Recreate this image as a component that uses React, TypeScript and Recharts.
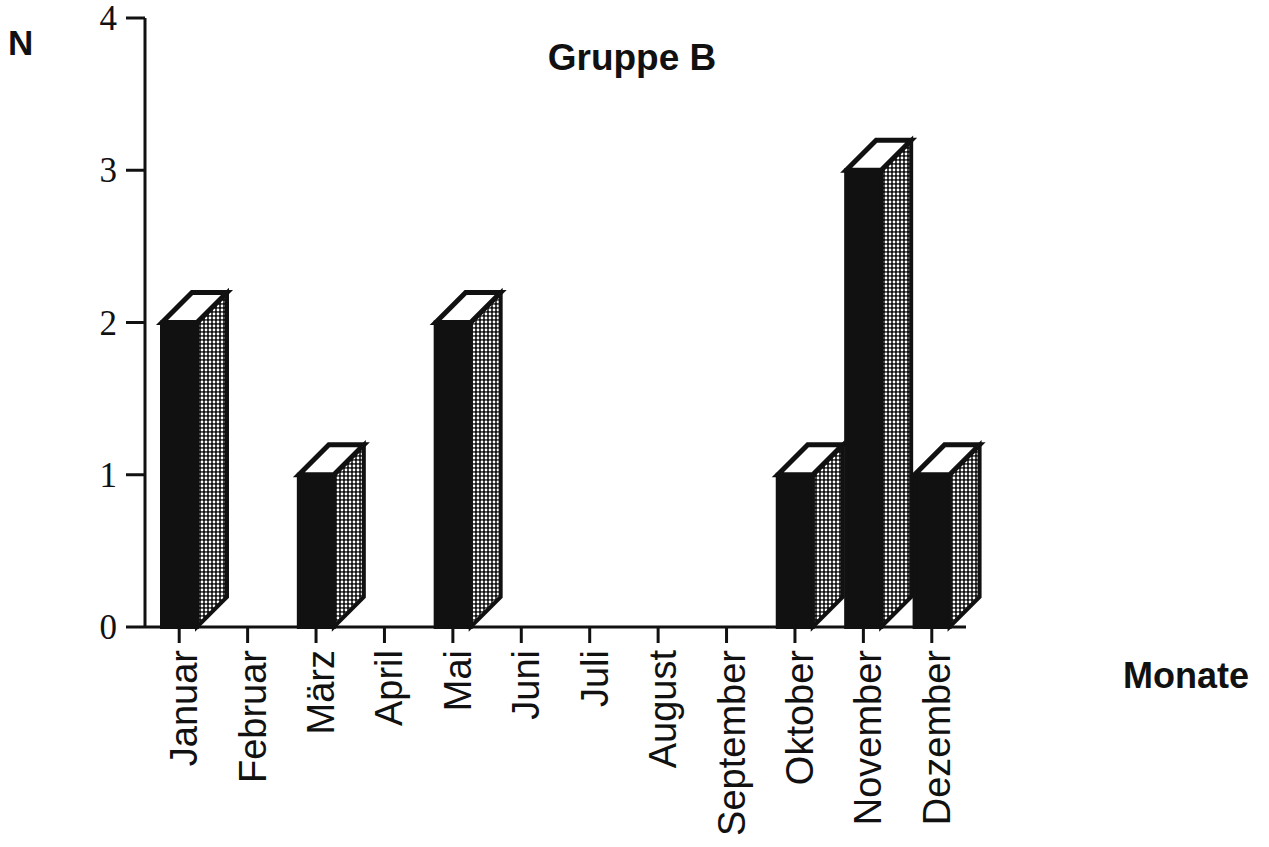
import React from "react";
import { BarChart, Bar, XAxis, YAxis } from "recharts";

const months = [
  "Januar", "Februar", "März", "April", "Mai", "Juni",
  "Juli", "August", "September", "Oktober", "November", "Dezember",
];
const counts = [2, 0, 1, 0, 2, 0, 0, 0, 0, 1, 3, 1];
const yTicks = [0, 1, 2, 3, 4];

const data = months.map((m, i) => ({ month: m, n: counts[i] }));

const DEPTH = 30;
const INK = "#111";
const SANS = "'Liberation Sans', Arial, Helvetica, sans-serif";
const SERIF = "'Liberation Serif', 'Times New Roman', serif";

// front face black, side dotted, top white - old-school 3D column
const Block3D = (props: any) => {
  const { x, y, width, height } = props;
  if (!height || height <= 0) return null;
  const d = DEPTH;
  const r = x + width;
  const b = y + height;
  return (
    <g stroke={INK} strokeWidth={4} strokeLinejoin="miter">
      <polygon points={`${r},${y} ${r + d},${y - d} ${r + d},${b - d} ${r},${b}`} fill="url(#dots)" />
      <rect x={x} y={y} width={width} height={height} fill={INK} />
      <polygon points={`${x},${y} ${x + d},${y - d} ${r + d},${y - d} ${r},${y}`} fill="#fff" strokeWidth={5} />
    </g>
  );
};

const MonthTick = (props: any) => {
  const { x, y, payload } = props;
  return (
    <text
      transform={`translate(${x + 18}, ${y}) rotate(-90)`}
      textAnchor="end"
      fontFamily={SANS}
      fontSize={38}
      fill={INK}
    >
      {payload.value}
    </text>
  );
};

const CountTick = (props: any) => {
  const { x, y, payload } = props;
  return (
    <text x={x} y={y + 12} textAnchor="end" fontFamily={SERIF} fontSize={35} fill={INK}>
      {payload.value}
    </text>
  );
};

export default function App() {
  return (
    <div style={{ position: "absolute", left: 0, top: 0, width: 1269, height: 847, background: "#fff" }}>
      <BarChart
        width={1269}
        height={847}
        data={data}
        margin={{ top: 18, right: 303, bottom: 20, left: 0 }}
      >
        <XAxis
          dataKey="month"
          interval={0}
          height={200}
          tickSize={16}
          tickMargin={7}
          axisLine={{ stroke: INK, strokeWidth: 3 }}
          tickLine={{ stroke: INK, strokeWidth: 3 }}
          tick={<MonthTick />}
        />
        <YAxis
          type="number"
          domain={[0, 4]}
          ticks={yTicks}
          interval={0}
          width={145}
          tickSize={19}
          tickMargin={9}
          axisLine={{ stroke: INK, strokeWidth: 3 }}
          tickLine={{ stroke: INK, strokeWidth: 3 }}
          tick={<CountTick />}
        />
        <Bar dataKey="n" barSize={35} shape={<Block3D />} isAnimationActive={false} />
      </BarChart>
      <svg
        width={1269}
        height={847}
        style={{ position: "absolute", left: 0, top: 0, pointerEvents: "none" }}
      >
        <defs>
          <pattern id="dots" patternUnits="userSpaceOnUse" width={4} height={4}>
            <rect width={4} height={4} fill={INK} />
            <circle cx={2} cy={2} r={1.4} fill="#fff" />
          </pattern>
        </defs>
        <text x={8} y={55} fontFamily={SANS} fontWeight="bold" fontSize={35} fill={INK}>N</text>
        <text x={632} y={70} textAnchor="middle" fontFamily={SANS} fontWeight="bold" fontSize={37} fill={INK}>
          Gruppe B
        </text>
        <text x={1123} y={688} fontFamily={SANS} fontWeight="bold" fontSize={36} fill={INK}>Monate</text>
      </svg>
    </div>
  );
}
